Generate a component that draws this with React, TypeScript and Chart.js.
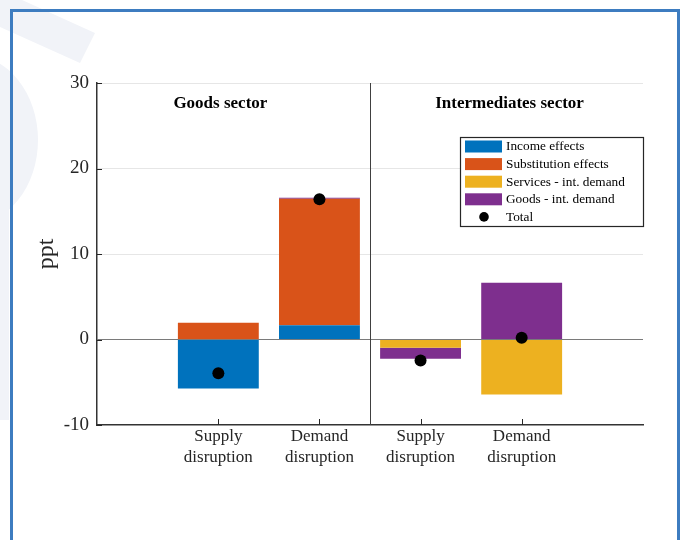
import React, { useEffect, useRef } from 'react';
import { Chart, registerables } from 'chart.js';

Chart.register(...registerables);

// ---- Data ----
const categories: string[][] = [
  ['Supply', 'disruption'],
  ['Demand', 'disruption'],
  ['Supply', 'disruption'],
  ['Demand', 'disruption'],
];
const positions = [1, 2, 3, 4];
const incomeEffects = [-5.74, 1.67, null, null];
const substitutionEffects = [1.95, 14.8, null, null];
const servicesIntDemand = [null, null, -0.97, -6.44];
const goodsIntDemand = [null, 0.1, -1.29, 6.64];
const totals = [-3.94, 16.4, -2.46, 0.2];
const seriesLabels = ['Income effects', 'Substitution effects', 'Services - int. demand', 'Goods - int. demand', 'Total'];
const seriesColors = ['#0072BD', '#D95319', '#EDB120', '#7E2F8E', '#000000'];
const sectorTitles = ['Goods sector', 'Intermediates sector'];
const sectorTitleX = [1.02, 3.88];
const sectorTitleY = 27.6;
const dividerX = 2.5;
const yTicks = [-10, 0, 10, 20, 30];

const SERIF = "'Liberation Serif', 'Times New Roman', serif";

const decorPlugin = {
  id: 'decor',
  beforeDraw(chart: any) {
    const ctx = chart.ctx;
    ctx.save();
    ctx.fillStyle = '#ffffff';
    ctx.fillRect(0, 0, chart.width, chart.height);
    // faint watermark
    ctx.fillStyle = '#f1f3f8';
    ctx.beginPath();
    ctx.moveTo(0, -10);
    ctx.lineTo(95, 33);
    ctx.lineTo(80, 63);
    ctx.lineTo(0, 27);
    ctx.closePath();
    ctx.fill();
    ctx.beginPath();
    ctx.ellipse(-30, 140, 68, 85, 0, 0, Math.PI * 2);
    ctx.fill();
    ctx.fillRect(0, 200, 9, 220);
    ctx.restore();
  },
  afterDatasetsDraw(chart: any) {
    const ctx = chart.ctx;
    const x = chart.scales.x;
    const y = chart.scales.y;
    const area = chart.chartArea;
    ctx.save();
    // divider
    ctx.strokeStyle = '#404040';
    ctx.lineWidth = 1;
    const dx = Math.round(x.getPixelForValue(dividerX)) + 0.5;
    ctx.beginPath();
    ctx.moveTo(dx, area.top);
    ctx.lineTo(dx, area.bottom);
    ctx.stroke();
    // inward ticks
    ctx.strokeStyle = '#262626';
    ctx.beginPath();
    yTicks.forEach((v) => {
      const py = Math.round(y.getPixelForValue(v)) + 0.5;
      ctx.moveTo(area.left, py);
      ctx.lineTo(area.left + 5, py);
    });
    positions.forEach((v) => {
      const px = Math.round(x.getPixelForValue(v)) + 0.5;
      ctx.moveTo(px, area.bottom);
      ctx.lineTo(px, area.bottom - 6);
    });
    ctx.stroke();
    // sector titles
    ctx.fillStyle = '#000000';
    ctx.font = `bold 17px ${SERIF}`;
    ctx.textAlign = 'center';
    ctx.textBaseline = 'middle';
    sectorTitles.forEach((t, i) => {
      ctx.fillText(t, x.getPixelForValue(sectorTitleX[i]), y.getPixelForValue(sectorTitleY));
    });
    ctx.restore();
  },
  afterDraw(chart: any) {
    const ctx = chart.ctx;
    ctx.save();
    // legend
    const bx = 460, by = 137, bw = 183, bh = 89;
    ctx.fillStyle = '#ffffff';
    ctx.fillRect(bx, by, bw, bh);
    ctx.strokeStyle = '#262626';
    ctx.lineWidth = 1.2;
    ctx.strokeRect(bx + 0.5, by + 0.5, bw, bh);
    ctx.font = `13.3px ${SERIF}`;
    ctx.textAlign = 'left';
    ctx.textBaseline = 'middle';
    chart.data.datasets.forEach((ds: any, i: number) => {
      const cy = by + 9.5 + i * 17.6;
      if (ds.type === 'bar') {
        ctx.fillStyle = ds.backgroundColor;
        ctx.fillRect(465, cy - 6, 37, 12);
      } else {
        ctx.fillStyle = '#000000';
        ctx.beginPath();
        ctx.arc(484, cy, 4.8, 0, Math.PI * 2);
        ctx.fill();
      }
      ctx.fillStyle = '#000000';
      ctx.fillText(ds.label, 506, cy + 0.5);
    });
    // frame
    ctx.strokeStyle = '#3d7cc0';
    ctx.lineWidth = 3;
    ctx.beginPath();
    ctx.moveTo(11.5, 560);
    ctx.lineTo(11.5, 10.5);
    ctx.lineTo(678.5, 10.5);
    ctx.lineTo(678.5, 560);
    ctx.stroke();
    ctx.restore();
  },
};

function makeBar(label: string, vals: (number | null)[], color: string) {
  return {
    type: 'bar' as const,
    label,
    data: positions.map((x, i) => ({ x, y: vals[i] })),
    backgroundColor: color,
    borderWidth: 0,
    barPercentage: 0.8,
    categoryPercentage: 1,
    stack: 'bars',
    order: 1,
  };
}

export default function App() {
  const ref = useRef<HTMLCanvasElement | null>(null);
  useEffect(() => {
    if (!ref.current) return;
    const chart = new Chart(ref.current, {
      type: 'bar',
      data: {
        datasets: [
          makeBar(seriesLabels[0], incomeEffects, seriesColors[0]),
          makeBar(seriesLabels[1], substitutionEffects, seriesColors[1]),
          makeBar(seriesLabels[2], servicesIntDemand, seriesColors[2]),
          makeBar(seriesLabels[3], goodsIntDemand, seriesColors[3]),
          {
            type: 'scatter' as const,
            label: seriesLabels[4],
            data: positions.map((x, i) => ({ x, y: totals[i] })),
            backgroundColor: seriesColors[4],
            borderColor: seriesColors[4],
            pointRadius: 6,
            pointBorderWidth: 0,
            stack: 'total',
            order: 0,
          } as any,
        ],
      },
      options: {
        responsive: false,
        animation: false,
        devicePixelRatio: 1,
        layout: { padding: { left: 0, top: 83, right: 37, bottom: 0 } },
        plugins: { legend: { display: false }, tooltip: { enabled: false } },
        scales: {
          x: {
            type: 'linear',
            min: -0.2,
            max: 5.2,
            offset: false,
            stacked: true,
            afterBuildTicks: (scale: any) => {
              scale.ticks = positions.map((v) => ({ value: v }));
            },
            afterFit: (scale: any) => {
              scale.height = 115;
            },
            ticks: {
              autoSkip: false,
              maxRotation: 0,
              padding: 2,
              color: '#262626',
              font: { family: SERIF, size: 17, lineHeight: 1.18 },
              callback: (_v: any, i: number) => categories[i],
            },
            grid: { color: 'rgba(0,0,0,0)', drawTicks: false, offset: false },
            border: { display: true, color: '#333333', width: 1.5 },
          },
          y: {
            type: 'linear',
            min: -10,
            max: 30,
            stacked: true,
            afterBuildTicks: (scale: any) => {
              scale.ticks = yTicks.map((v) => ({ value: v }));
            },
            afterFit: (scale: any) => {
              scale.width = 97;
            },
            ticks: {
              padding: 8,
              color: '#262626',
              font: { family: SERIF, size: 19 },
            },
            grid: {
              drawTicks: false,
              lineWidth: 1,
              color: (c: any) =>
                c.tick && c.tick.value === 0 ? '#7a7a7a' : c.tick && c.tick.value === -10 ? 'rgba(0,0,0,0)' : '#e6e6e6',
            },
            border: { display: true, color: '#333333', width: 1.5 },
            title: {
              display: true,
              text: 'ppt',
              color: '#262626',
              font: { family: SERIF, size: 24 },
              padding: { top: 32, bottom: 0 },
            },
          },
        },
      } as any,
      plugins: [decorPlugin],
    });
    return () => chart.destroy();
  }, []);
  return (
    <div style={{ position: 'absolute', left: 0, top: 0, width: 680, height: 540 }}>
      <canvas ref={ref} width={680} height={540} style={{ display: 'block', width: 680, height: 540 }} />
    </div>
  );
}
